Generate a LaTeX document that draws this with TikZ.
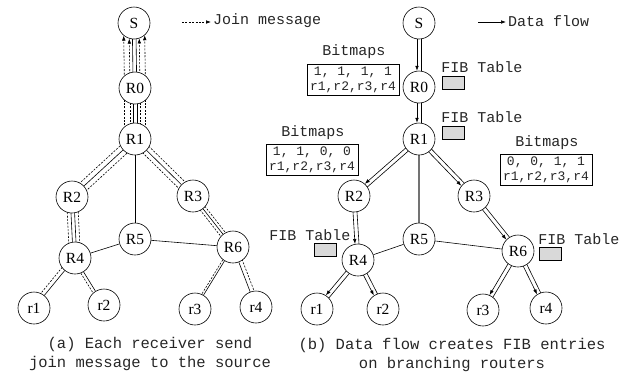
\documentclass[tikz,border=0pt]{standalone}
\usepackage{fontspec}
\setmainfont{Liberation Serif}
\setmonofont{Liberation Mono}
\usetikzlibrary{calc,arrows.meta,backgrounds}

% a straight segment from #2 to #3, shifted sideways by #4 (positive = left of travel)
\newcommand\sideline[4][]{\draw[#1] ($(#2)!#4!90:(#3)$) -- ($(#3)!#4!-90:(#2)$);}
% data flow: a pair of parallel lines, the western one carrying the arrow
\newcommand\dataflow[2]{%
  \sideline[flow,tip,shorten >=16.2pt]{#1}{#2}{-2pt}
  \sideline[flow]{#1}{#2}{2pt}}

\tikzset{
  router/.style={circle, draw, line width=0.6pt, fill=white, minimum size=32pt,
    inner sep=0pt, font=\fontsize{15.5}{15.5}\selectfont},
  link/.style={line width=0.6pt},
  flow/.style={line width=0.6pt},
  graylink/.style={line width=1.1pt, draw=black!55},
  joinmsg/.style={line width=0.6pt, dash pattern=on 2pt off 1.4pt},
  tip/.style={-{Latex[length=5pt,width=3.6pt]}},
  label/.style={font=\ttfamily\fontsize{15}{15}\selectfont, inner sep=0pt, text=black!85},
  bitmap/.style={draw, line width=0.6pt, align=center, inner xsep=3pt, inner ysep=2.5pt,
    font=\ttfamily\fontsize{13}{15}\selectfont, text=black!85},
  fib/.style={draw, line width=0.6pt, fill=black!15, minimum width=22pt,
    minimum height=13pt, inner sep=0pt},
  caption/.style={align=center, font=\ttfamily\fontsize{15.5}{19}\selectfont, text=black!85}
}

\begin{document}
\begin{tikzpicture}[x=1pt, y=-1pt]
\useasboundingbox (0,0) rectangle (627,376);

% ---------------- (a) join messages ----------------
\node[router] (aS)  at (134,23)  {S};
\node[router] (aR0) at (135,88)  {R0};
\node[router] (aR1) at (135,139) {R1};
\node[router] (aR2) at (72,197)  {R2};
\node[router] (aR3) at (193,196) {R3};
\node[router] (aR5) at (135,239) {R5};
\node[router] (aR4) at (75,258)  {R4};
\node[router] (aR6) at (233,247) {R6};
\node[router] (ar1) at (34,308)  {r1};
\node[router] (ar2) at (104,305) {r2};
\node[router] (ar3) at (195,309) {r3};
\node[router] (ar4) at (256,307) {r4};

\coordinate (jl0) at (182,22);
\coordinate (jl1) at (211,22);
\node[label, anchor=west] (jtext) at (213,21) {Join message};

\begin{pgfonlayer}{background}
  % links
  \sideline[link]{aS}{aR0}{1.8pt}  \sideline[link]{aS}{aR0}{-1.8pt}
  \sideline[link]{aR0}{aR1}{1.8pt} \sideline[link]{aR0}{aR1}{-1.8pt}
  \sideline[link]{aR2}{aR4}{1.8pt} \sideline[link]{aR2}{aR4}{-1.8pt}
  \draw[link] (aR1) -- (aR2);
  \draw[link] (aR1) -- (aR3);
  \draw[link] (aR1) -- (aR5);
  \draw[link] (aR4) -- (aR5);
  \draw[link] (aR5) -- (aR6);
  \draw[link] (aR3) -- (aR6);
  \draw[link] (aR4) -- (ar1);
  \draw[link] (aR4) -- (ar2);
  \draw[link] (aR6) -- (ar3);
  \draw[link] (aR6) -- (ar4);
  % join messages, receiver towards source
  \sideline[joinmsg,tip,shorten >=12.4pt]{aR0}{aS}{10.5pt}
  \sideline[joinmsg,tip,shorten >=15.5pt]{aR0}{aS}{5pt}
  \sideline[joinmsg,tip,shorten >=15.5pt]{aR0}{aS}{-5pt}
  \sideline[joinmsg,tip,shorten >=12.4pt]{aR0}{aS}{-10.5pt}
  \sideline[joinmsg]{aR1}{aR0}{10.5pt}
  \sideline[joinmsg]{aR1}{aR0}{5pt}
  \sideline[joinmsg]{aR1}{aR0}{-5pt}
  \sideline[joinmsg]{aR1}{aR0}{-10.5pt}
  \sideline[joinmsg]{aR2}{aR1}{5pt}
  \sideline[joinmsg]{aR2}{aR1}{-5pt}
  \sideline[joinmsg]{aR4}{aR2}{5.5pt}
  \sideline[joinmsg]{aR4}{aR2}{-5.5pt}
  \sideline[joinmsg]{ar1}{aR4}{4pt}
  \sideline[joinmsg]{ar2}{aR4}{3pt}
  \sideline[joinmsg]{aR3}{aR1}{4.5pt}
  \sideline[joinmsg]{aR3}{aR1}{-4.5pt}
  \sideline[joinmsg]{aR6}{aR3}{3pt}
  \sideline[joinmsg]{aR6}{aR3}{-3pt}
  \sideline[joinmsg]{ar3}{aR6}{2pt}
  \sideline[joinmsg]{ar4}{aR6}{-4pt}
\end{pgfonlayer}
\draw[joinmsg,tip] (jl0) -- (jl1);

\node[caption] (capa) at (150,354) {(a) Each receiver send\\join message to the source};

% ---------------- (b) data flow ----------------
\node[router] (bS)  at (419,23)  {S};
\node[router] (bR0) at (419,87)  {R0};
\node[router] (bR1) at (419,139) {R1};
\node[router] (bR2) at (354,196) {R2};
\node[router] (bR3) at (474,196) {R3};
\node[router] (bR5) at (419,239) {R5};
\node[router] (bR4) at (358,260) {R4};
\node[router] (bR6) at (518,251) {R6};
\node[router] (br1) at (317,309) {r1};
\node[router] (br2) at (383,309) {r2};
\node[router] (br3) at (483,310) {r3};
\node[router] (br4) at (546,308) {r4};

\coordinate (dl0) at (478,22);
\coordinate (dl1) at (506,22);
\node[label, anchor=west] (dtext) at (508,21) {Data flow};

\begin{pgfonlayer}{background}
  \dataflow{bS}{bR0}
  \dataflow{bR0}{bR1}
  \dataflow{bR1}{bR2}
  \dataflow{bR1}{bR3}
  \dataflow{bR2}{bR4}
  \dataflow{bR3}{bR6}
  \dataflow{bR4}{br1}
  \dataflow{bR4}{br2}
  \dataflow{bR6}{br3}
  \dataflow{bR6}{br4}
  \draw[graylink] (bR1) -- (bR5);
  \draw[link] (bR4) -- (bR5);
  \draw[link] (bR5) -- (bR6);
\end{pgfonlayer}
\draw[flow,tip] (dl0) -- (dl1);

% bitmaps
\node[label] (bmt1) at (354,52) {Bitmaps};
\node[bitmap] (bm1) at (353,80) {1, 1, 1, 1\\r1,r2,r3,r4};
\node[label] (bmt2) at (313,133) {Bitmaps};
\node[bitmap] (bm2) at (312,160) {1, 1, 0, 0\\r1,r2,r3,r4};
\node[label] (bmt3) at (547,143) {Bitmaps};
\node[bitmap] (bm3) at (546,170) {0, 0, 1, 1\\r1,r2,r3,r4};

% FIB tables on branching routers
\node[label] (fibt0) at (482,67) {FIB Table};
\node[fib] (fib0) at (453,83) {};
\node[label] (fibt1) at (482,117) {FIB Table};
\node[fib] (fib1) at (453,133) {};
\node[label] (fibt4) at (310,235) {FIB Table};
\node[fib] (fib4) at (325,250) {};
\node[label] (fibt6) at (579,239) {FIB Table};
\node[fib] (fib6) at (550,254) {};

\node[caption] (capb) at (452,355) {(b) Data flow creates FIB entries\\on branching routers};
\end{tikzpicture}
\end{document}
